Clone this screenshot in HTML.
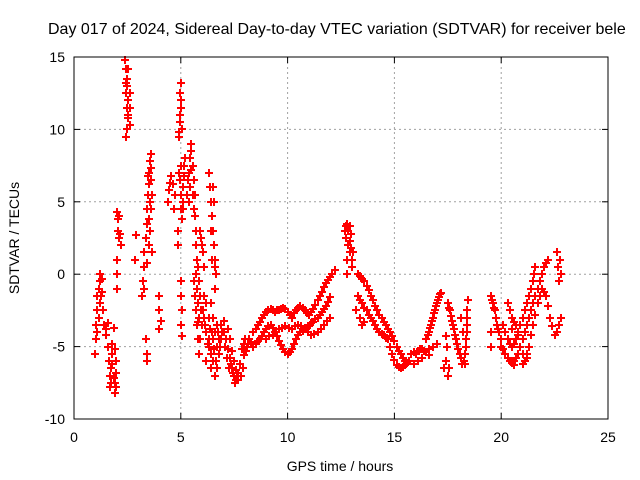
<!DOCTYPE html>
<html><head><meta charset="utf-8"><style>
body{margin:0;background:#fff;width:640px;height:480px;overflow:hidden}
svg{display:block;font-family:"Liberation Sans",sans-serif}
</style></head><body>
<svg id="chart" width="640" height="480">
<text x="48" y="34" font-size="16" fill="#000">Day 017 of 2024, Sidereal Day-to-day VTEC variation (SDTVAR) for receiver bele</text>
<g id="grid"></g><g id="ticks"></g><g id="marks"></g>
<rect x="74" y="57" width="534" height="362" fill="none" stroke="#000" stroke-width="1"/>
<text x="340" y="471" font-size="14" text-anchor="middle">GPS time / hours</text>
<text x="19" y="238" font-size="14" text-anchor="middle" transform="rotate(-90 19 238)">SDTVAR / TECUs</text>
</svg>
<script>
const xTicks=[0,5,10,15,20,25];
const yTicks=[-10,-5,0,5,10,15];
const sdtvarPoints=[
[1.0,-5.5],[1.05,-4.5],[1.05,-3.5],[1.1,-2.5],[1.1,-1.5],[1.15,-1],[1.2,-0.5],[1.2,0],[1.3,-0.3],[1.3,-1.2],[1.35,-2.5],[1.4,-3.5],[1.5,-3.8],[1.6,-3.4],[1.5,-4.2],
[1.6,-5],[1.65,-6],[1.7,-7],[1.7,-7.8],[1.75,-6.5],[1.8,-5.5],[1.85,-7.2],[1.9,-8.2],[1.9,-7.5],[1.95,-6.8],[1.95,-6],[1.8,-4.8],[1.85,-3.7],
[2.0,4.3],[2.05,3.8],[2.05,3],[2.1,2.5],[2.1,4],[2.15,2.8],[2.0,1],[2.0,0],[2.0,-1],[2.2,2],
[2.4,14.8],[2.45,14.2],[2.5,13.5],[2.45,12.5],[2.5,11.5],[2.55,10.8],[2.5,10],[2.6,10.3],[2.6,11.5],[2.55,14.2],[2.45,9.5],[2.5,13],[2.55,12],
[2.9,2.7],[2.85,1],
[3.2,-1.5],[3.25,-0.5],[3.3,0.5],[3.3,1.5],[3.35,2.5],[3.4,3.5],[3.4,4.5],[3.45,5.5],[3.5,6.2],[3.5,7],[3.55,7.8],[3.6,8.3],[3.6,6.5],[3.65,5.5],[3.6,4.5],[3.55,3],[3.5,2],[3.65,1.5],[3.3,-1],[3.35,-4.5],[3.4,-5.5],[3.4,-6],
[4.0,-1.5],[4.0,-2.5],[4.05,-3.2],[4.0,-3.8],
[4.4,5],[4.45,5.8],[4.5,6.3],[4.55,6.8],[4.65,6.2],[4.75,5.5],[4.7,4.5],
[4.9,9.8],[4.95,10.5],[4.95,11],[5.0,11.5],[5.0,12],[5.0,13.2],[4.9,9.5],
[4.9,7],[4.95,6.5],[5.0,5.5],[5.0,4.5],[5.05,3.8],[5.1,5],[5.1,6],[5.15,7.5],[5.2,8],[4.85,3],[4.85,2],
[5.0,-0.5],[5.0,-1.5],[5.05,-2.5],[5.0,-3.5],[5.05,-4.3],
[5.3,5.5],[5.35,6.5],[5.4,7],[5.45,8],[5.5,8.5],[5.5,9],[5.55,7.5],[5.6,6.5],[5.55,5.5],[5.6,4.5],[5.65,4],[5.7,3],
[5.7,2],[5.75,1],[5.8,0.5],[5.85,-0.5],[5.9,-1.5],[5.95,-2.5],[6.0,-3.5],[5.8,-2],[5.85,-3],[5.9,-4.5],[5.6,-0.5],[5.65,-1.5],[5.7,-2.5],[5.75,-3.5],[5.8,-4.5],[5.85,-5.5],
[5.9,3],[5.95,2.5],[6.0,2],[6.05,1.5],[6.1,0.5],
[6.3,7],[6.35,6],[6.4,5],[6.45,4],[6.5,3],[6.55,2],[6.6,1],[6.65,0],[6.6,-1],
[6.1,-3],[6.2,-4],[6.3,-5],[6.4,-5.5],[6.5,-6],[6.6,-7],[6.7,-6.5],[6.8,-5.5],[6.9,-4.5],[7.0,-4],[6.2,-2],[6.3,-3],[6.4,-2],[6.5,-3],[6.6,-4],[6.7,-5],[6.8,-4.5],[6.9,-3.5],[7.0,-3.2],[6.3,-4.5],[6.5,-4.5],[6.7,-3.5],[6.1,-1.5],[6.2,-6],[6.4,-6.5],
[7.1,-4.5],[7.2,-5.2],[7.3,-5.8],[7.4,-6.5],[7.5,-7],[7.6,-7.3],[7.7,-7.3],[7.8,-7],[7.9,-6.5],[7.2,-3.8],[7.3,-4.5],[7.4,-5.3],[7.5,-6],[7.6,-6.6],[7.7,-6.8],[7.85,-5.2],[7.95,-4.8],[8.1,-5.0],[8.0,-4.5],
[8.2,-4.5],[8.4,-4],[8.6,-3.5],[8.8,-3],[9.0,-2.6],[9.2,-2.4],[9.4,-2.6],[9.6,-2.5],[9.8,-2.3],[10.0,-2.6],[10.2,-3],[10.4,-2.5],[10.6,-2.2],[10.8,-2.5],[11.0,-2.8],[11.2,-2.4],[11.4,-1.8],[11.6,-1.2],[11.8,-0.6],[12.0,-0.2],[12.2,0.3],
[8.4,-5],[8.6,-4.6],[8.8,-4.3],[9.0,-3.8],[9.2,-3.5],[9.4,-4],[9.6,-4.6],[9.8,-5.2],[10.0,-5.5],[10.2,-5.2],[10.4,-4.5],[10.6,-4.0],[10.8,-3.8],[11.0,-3.6],[11.2,-3.3],[11.4,-3.0],[11.6,-2.6],[11.8,-2.2],[12.0,-1.6],
[9.0,-4.5],[9.3,-4.2],[9.6,-3.8],[9.9,-3.6],[10.2,-3.8],[10.5,-3.5],[10.8,-3.7],[11.1,-4.2],[11.4,-4.0],[11.7,-3.5],[12.0,-3.0],
[12.7,3],[12.75,2.5],[12.8,3.5],[12.85,2],[12.9,1.5],[12.95,2.8],[13.0,1],[13.0,0.5],[12.8,0],[12.9,3.3],
[13.3,0],[13.5,-0.3],[13.7,-0.8],[13.9,-1.5],[14.1,-2.2],[14.3,-2.8],[14.5,-3.3],[14.7,-3.8],[14.9,-4.3],[15.1,-5],[15.3,-5.5],[15.5,-6],
[13.3,-1.5],[13.5,-2],[13.7,-2.5],[13.9,-3.0],[14.1,-3.5],[14.3,-4],[14.5,-4.2],[14.7,-4.5],[14.9,-5.5],[15.1,-6.3],[15.3,-6.5],[15.5,-6.3],[15.7,-6.0],
[13.2,-2.5],[13.4,-3],[13.6,-3.3],[13.5,-3.5],
[15.8,-5.5],[16.0,-5.5],[16.2,-5.2],[16.4,-5.3],[16.6,-5.6],[15.9,-6.2],[16.1,-6],[16.3,-5.8],
[16.5,-4.5],[16.6,-4],[16.7,-3.5],[16.8,-3],[16.9,-2.5],[17.0,-2],[17.1,-1.6],[17.2,-1.3],[16.6,-5.2],[16.8,-5.0],[17.0,-4.8],
[17.3,-6.5],[17.4,-6],[17.45,-5],[17.4,-4.3],[17.5,-7],[17.55,-6.5],
[17.5,-2],[17.6,-2.5],[17.7,-3.2],[17.8,-3.8],[17.9,-4.5],[18.0,-5.2],[18.1,-5.8],[18.15,-6.2],[18.3,-5.5],[18.35,-4.5],[18.4,-3.5],[18.4,-2.5],[18.45,-1.8],[18.2,-4],[18.1,-3],[18.3,-6.2],
[19.5,-1.5],[19.6,-2],[19.7,-2.5],[19.8,-3.5],[19.9,-4],[19.5,-4],[19.5,-5],[20.0,-4.5],
[20.0,-5],[20.2,-5.5],[20.4,-6],[20.6,-6],[20.8,-5.5],[21.0,-4.5],[21.2,-3.5],[21.4,-2.5],[21.6,-1.5],[21.8,-0.5],[22.0,0.5],[22.2,1.0],
[20.1,-3.5],[20.3,-4.5],[20.5,-5],[20.7,-4.5],[20.9,-3.5],[21.1,-2.5],[21.3,-1.5],[21.5,-0.5],[21.6,0.5],
[20.3,-2],[20.5,-3],[20.7,-3.5],[20.9,-5],[21.1,-6],[21.3,-5],[21.5,-3.5],[21.7,-2],[21.9,-1],[22.1,-1.5],[22.3,-3],[22.5,-4.2],[22.7,-3.5],[22.8,-3],
[22.6,1.5],[22.65,0.5],[22.7,-0.5],[22.75,1],[22.8,0],
[20.5,-3.8],[20.6,-6.3],[21.0,-6.2],[21.2,-5.5]
];
const extraPoints=[
[1.1,-4],[1.15,-3],[1.2,-2],[1.25,-1.5],[1.75,-7.5],[1.8,-6.2],[1.9,-5.2],[1.95,-7.8],
[2.45,13.2],[2.55,11],[2.6,12.5],[3.45,6.8],[3.55,5],[3.5,3.8],[3.4,0.8],[3.6,7.3],
[4.95,12.5],[5.05,10],[5.0,7.5],[5.1,4.5],[5.15,6.8],[5.4,5],[5.45,6],[5.5,7.2],[5.65,5.5],[5.7,0],[5.75,-1],[5.8,-3.3],
[6.05,-2.5],[6.15,-3.5],[6.25,-4.8],[6.35,-3.8],[6.45,-4],[6.55,-5.2],[6.65,-6],[6.75,-4],[6.85,-5],[6.95,-4],[6.4,3],[6.5,6],[6.55,5],[6.6,0.5],[6.45,1],
[7.05,-5],[7.15,-5.8],[7.25,-6.5],[7.35,-6.2],[7.45,-6.8],[7.55,-7.5],[7.65,-7],[7.75,-6.2],[7.95,-5.6],[8.05,-5.3],[8.15,-4.8],
[8.3,-4.7],[8.5,-3.8],[8.7,-3.3],[8.9,-2.8],[9.1,-2.5],[9.3,-2.5],[9.5,-2.5],[9.7,-2.4],[9.9,-2.4],[10.1,-2.8],[10.3,-2.7],[10.5,-2.3],[10.7,-2.3],[10.9,-2.7],[11.1,-2.6],[11.3,-2.1],[11.5,-1.5],[11.7,-0.9],[11.9,-0.4],[12.1,0],
[8.5,-4.8],[8.7,-4.5],[8.9,-4],[9.1,-3.6],[9.3,-3.7],[9.5,-4.3],[9.7,-4.9],[9.9,-5.4],[10.1,-5.4],[10.3,-4.8],[10.5,-4.2],[10.7,-3.9],[10.9,-3.7],[11.1,-3.4],[11.3,-3.1],[11.5,-2.8],[11.7,-2.4],[11.9,-1.9],
[9.15,-4.3],[9.45,-4],[9.75,-3.7],[10.05,-3.7],[10.35,-3.6],[10.65,-3.6],[10.95,-4],[11.25,-4.1],[11.55,-3.8],[11.85,-3.2],
[12.75,3.3],[12.85,3],[12.9,2.3],[12.95,1.8],[13.05,1.5],[12.8,1],
[13.4,-0.1],[13.6,-0.5],[13.8,-1.1],[14.0,-1.8],[14.2,-2.5],[14.4,-3],[14.6,-3.5],[14.8,-4],[15.0,-4.6],[15.2,-5.3],[15.4,-5.8],
[13.4,-1.8],[13.6,-2.3],[13.8,-2.8],[14.0,-3.2],[14.2,-3.8],[14.4,-4.1],[14.6,-4.4],[14.8,-5],[15.0,-5.9],[15.2,-6.4],[15.4,-6.4],[15.6,-6.1],
[15.9,-5.4],[16.1,-5.3],[16.3,-5.2],[16.5,-5.4],[16.55,-4.2],[16.65,-3.7],[16.75,-3.2],[16.85,-2.7],[16.95,-2.2],[17.05,-1.8],[17.15,-1.4],
[17.55,-2.3],[17.65,-2.9],[17.75,-3.5],[17.85,-4.2],[17.95,-4.8],[18.05,-5.5],[18.35,-5],[18.4,-4],[18.4,-3],[18.25,-6],
[19.55,-1.8],[19.65,-2.3],[19.75,-3],[19.85,-3.8],
[20.1,-5.2],[20.3,-5.8],[20.5,-6.1],[20.7,-5.8],[20.9,-5],[21.1,-4],[21.3,-3],[21.5,-2],[21.7,-1],[21.9,0],[22.1,0.8],
[20.2,-4],[20.4,-4.8],[20.6,-4.8],[20.8,-4],[21.0,-3],[21.2,-2],[21.4,-1],[21.55,0],
[20.4,-2.5],[20.6,-3.3],[20.8,-4.2],[21.0,-5.5],[21.2,-5.8],[21.4,-4.2],[21.6,-2.8],[21.8,-1.5],[22.0,-1.2],[22.2,-2.2],[22.4,-3.6],[22.6,-4]
];
const NS="http://www.w3.org/2000/svg";
const X0=74,X1=608,Y0=419,Y1=57,XMIN=0,XMAX=25,YMIN=-10,YMAX=15;
function sx(t){return X0+(t-XMIN)/(XMAX-XMIN)*(X1-X0);}
function sy(v){return Y0-(v-YMIN)/(YMAX-YMIN)*(Y0-Y1);}
function mk(tag,attrs,parent){const e=document.createElementNS(NS,tag);for(const k in attrs)e.setAttribute(k,attrs[k]);parent.appendChild(e);return e;}
const grid=document.getElementById('grid'),ticks=document.getElementById('ticks'),marks=document.getElementById('marks');
xTicks.forEach(t=>{const x=sx(t);
 if(t>XMIN&&t<XMAX){const g=mk('line',{x1:x,x2:x,y1:Y0,y2:Y1,stroke:'#a0a0a0','stroke-dasharray':'2,3'},grid);
 
 }
 mk('line',{x1:x,x2:x,y1:Y0,y2:Y0-6,stroke:'#000'},ticks);mk('line',{x1:x,x2:x,y1:Y1,y2:Y1+6,stroke:'#000'},ticks);
 const l=mk('text',{x:x,y:Y0+23,'font-size':14,'text-anchor':'middle'},ticks);l.textContent=t;
 
 });
yTicks.forEach(v=>{const y=sy(v);
 if(v>YMIN&&v<YMAX){const g=mk('line',{x1:X0,x2:X1,y1:y,y2:y,stroke:'#a0a0a0','stroke-dasharray':'2,3'},grid);
 
 }
 mk('line',{x1:X0,x2:X0+6,y1:y,y2:y,stroke:'#000'},ticks);mk('line',{x1:X1,x2:X1-6,y1:y,y2:y,stroke:'#000'},ticks);
 const l=mk('text',{x:X0-9,y:y+5,'font-size':14,'text-anchor':'end'},ticks);l.textContent=v;
 
 });
sdtvarPoints.concat(extraPoints).forEach(p=>{const x=Math.round(sx(p[0])),y=Math.round(sy(p[1]));
 const m=mk('path',{d:`M${x-4},${y}H${x+4}M${x},${y-4}V${y+4}`,stroke:'#ff0000','stroke-width':2,fill:'none'},marks);
 
 });
</script>
</body></html>
